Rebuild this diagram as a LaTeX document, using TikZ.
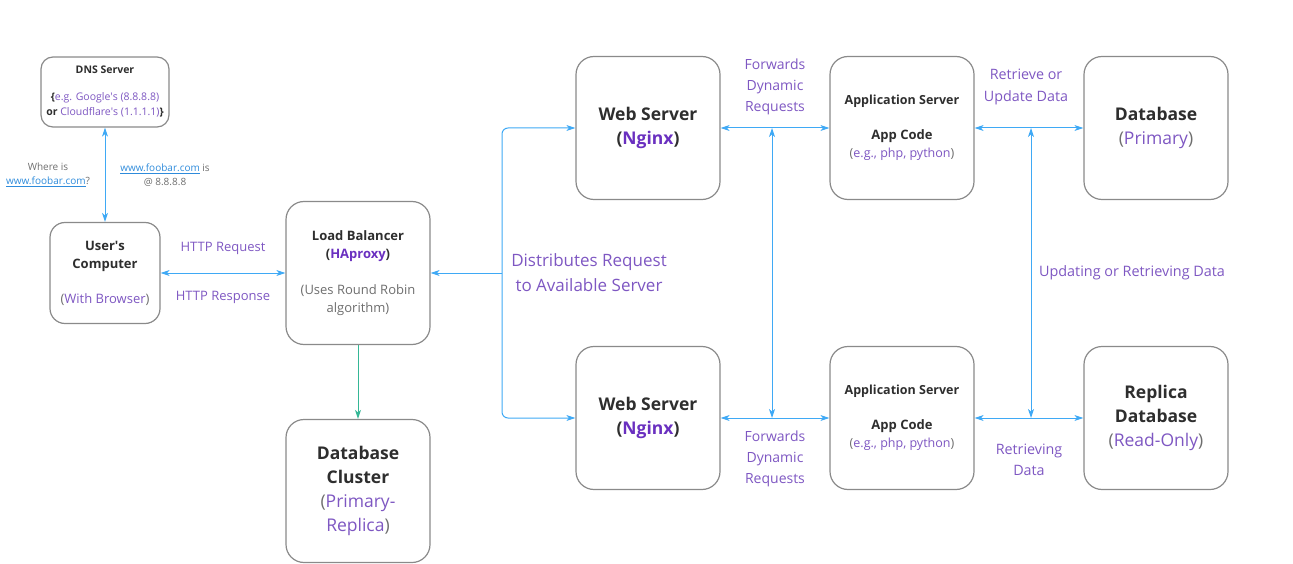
\documentclass[tikz,border=0pt]{standalone}
\usepackage{fontspec}
\setmainfont{Open Sans}
\usetikzlibrary{arrows.meta}
\definecolor{pur}{HTML}{7E57C2}
\definecolor{npur}{HTML}{6A30C0}
\definecolor{blu}{HTML}{3FA9F5}
\definecolor{grn}{HTML}{35B796}
\definecolor{txt}{HTML}{2E2E2E}
\definecolor{gry}{HTML}{6E6E6E}
\definecolor{lnk}{HTML}{2E8BDB}
\definecolor{boxgray}{HTML}{8A8A8A}
\newcommand{\apo}{\textquotesingle}
\tikzset{
  box/.style={draw=boxgray, line width=1.2pt, rounded corners=18pt, minimum width=144pt, minimum height=143pt, align=center, inner sep=0pt, fill=white, text=txt},
  tipb/.tip={Stealth[length=9pt,width=6pt,inset=2.5pt]},
  conn/.style={draw=blu, line width=1pt},
  lbl/.style={text=pur, align=center, inner sep=0pt},
  big/.style={font=\fontsize{17.5}{24}\selectfont},
  mid/.style={font=\fontsize{13}{18.5}\selectfont},
}
\begin{document}
\begin{tikzpicture}[x=1pt,y=-1pt]
\useasboundingbox (0,0) rectangle (1293,564);
% boxes
\node[box, minimum width=128pt, minimum height=70pt, rounded corners=12pt, font=\fontsize{10.5}{15}\selectfont] (dns) at (105,92)
  {\textbf{DNS Server}\\[12pt]\textbf{\{}\textcolor{pur}{e.g. Google\apo s (8.8.8.8)}\\\textbf{or }\textcolor{pur}{Cloudflare\apo s (1.1.1.1)}\textbf{\}}};
\node[box, minimum width=110pt, minimum height=101pt, rounded corners=15pt, mid] (usr) at (105,273)
  {\textbf{User\apo s}\\\textbf{Computer}\\[16pt]\textcolor{gry}{(}\textcolor{pur}{With Browser}\textcolor{gry}{)}};
\node[box, mid] (lb) at (358,273)
  {\textbf{Load Balancer}\\\textbf{(\textcolor{npur}{HAproxy})}\\[17pt]\textcolor{gry}{(Uses Round Robin}\\\textcolor{gry}{algorithm)}};
\node[box, big] (dbc) at (358,491)
  {\textbf{Database}\\\textbf{Cluster}\\\textcolor{gry}{(}\textcolor{pur}{Primary-}\\\textcolor{pur}{Replica}\textcolor{gry}{)}};
\node[box, big] (ws1) at (648,128)
  {\textbf{Web Server}\\\textbf{(\textcolor{npur}{Nginx})}};
\node[box, big] (ws2) at (648,418)
  {\textbf{Web Server}\\\textbf{(\textcolor{npur}{Nginx})}};
\node[box, font=\fontsize{12.5}{18}\selectfont] (as1) at (902,128)
  {\textbf{Application Server}\\[17pt]{\fontsize{13}{18}\selectfont\textbf{App Code}}\\\textcolor{gry}{(}\textcolor{pur}{e.g., php, python}\textcolor{gry}{)}};
\node[box, font=\fontsize{12.5}{18}\selectfont] (as2) at (902,418)
  {\textbf{Application Server}\\[17pt]{\fontsize{13}{18}\selectfont\textbf{App Code}}\\\textcolor{gry}{(}\textcolor{pur}{e.g., php, python}\textcolor{gry}{)}};
\node[box, big] (db) at (1156,128)
  {\textbf{Database}\\\textcolor{gry}{(}\textcolor{pur}{Primary}\textcolor{gry}{)}};
\node[box, big] (rdb) at (1156,418)
  {\textbf{Replica}\\\textbf{Database}\\\textcolor{gry}{(}\textcolor{pur}{Read-Only}\textcolor{gry}{)}};
% connectors
\draw[conn, tipb-tipb] (dns.south) -- (usr.north);
\draw[conn, tipb-tipb] (usr.east) -- (lb.west);
\coordinate (j) at (502,273);
\draw[conn, -tipb] (j) -- (lb.east);
\draw[conn, -tipb, rounded corners=6pt] (j) |- (ws1.west);
\draw[conn, -tipb, rounded corners=6pt] (j) |- (ws2.west);
\draw[conn, tipb-tipb] (ws1.east) -- (as1.west);
\draw[conn, tipb-tipb] (ws2.east) -- (as2.west);
\draw[conn, tipb-tipb] (as1.east) -- (db.west);
\draw[conn, tipb-tipb] (as2.east) -- (rdb.west);
\coordinate (m1) at (772,128);
\coordinate (m2) at (772,418);
\draw[conn, tipb-tipb] (m1) -- (m2);
\coordinate (n1) at (1031,128);
\coordinate (n2) at (1031,418);
\draw[conn, tipb-tipb] (n1) -- (n2);
\draw[draw=grn, line width=1pt, -{Stealth[length=9pt,width=6pt,inset=2.5pt]}] (lb.south) -- (dbc.north);
% labels
\node[align=center, inner sep=0pt, text=gry, font=\fontsize{10}{14}\selectfont] (q1) at (48,175)
  {Where is\\\textcolor{lnk}{\underline{www.foobar.com}}?};
\node[align=center, inner sep=0pt, text=gry, font=\fontsize{10}{14}\selectfont] (q2) at (165,175)
  {\textcolor{lnk}{\underline{www.foobar.com}} is\\@ 8.8.8.8};
\node[lbl, mid] (l1) at (223,248) {HTTP Request};
\node[lbl, mid] (l2) at (223,297) {HTTP Response};
\node[lbl, font=\fontsize{17}{25}\selectfont] (l3) at (589,272.5) {Distributes Request\\to Available Server};
\node[lbl, font=\fontsize{14}{21}\selectfont] (l4) at (775,87) {Forwards\\Dynamic\\Requests};
\node[lbl, font=\fontsize{14}{21}\selectfont] (l5) at (775,459) {Forwards\\Dynamic\\Requests};
\node[lbl, font=\fontsize{14.3}{22}\selectfont] (l6) at (1026,87) {Retrieve or\\Update Data};
\node[lbl, font=\fontsize{14.3}{21}\selectfont] (l7) at (1029,459.5) {Retrieving\\Data};
\node[lbl, font=\fontsize{14.4}{21}\selectfont] (l8) at (1132,273) {Updating or Retrieving Data};
\end{tikzpicture}
\end{document}
